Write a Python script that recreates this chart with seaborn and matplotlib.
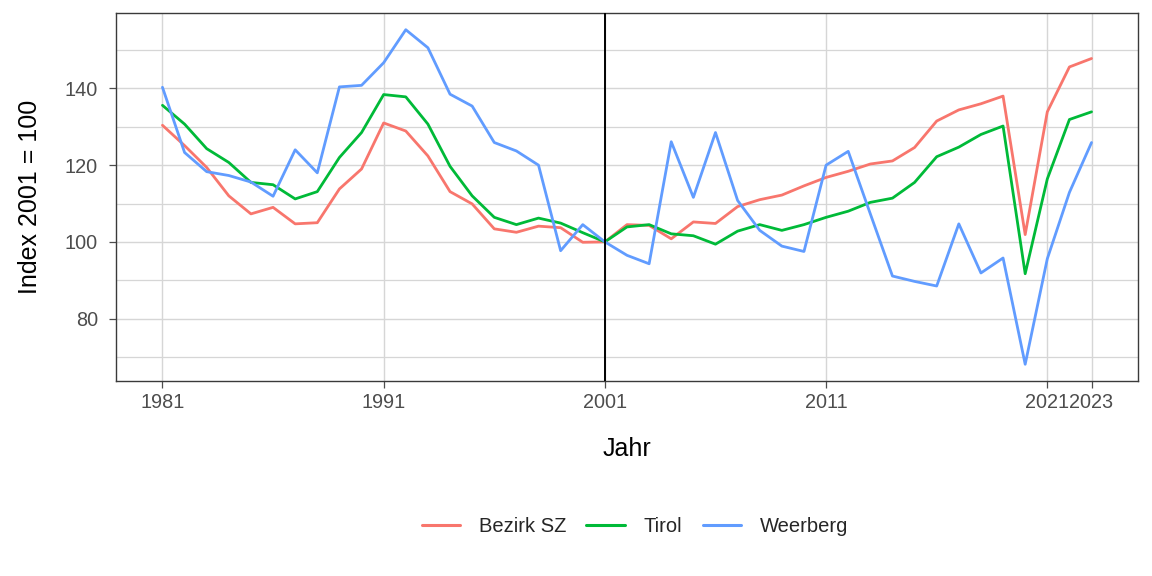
import matplotlib
matplotlib.use("Agg")
import matplotlib.pyplot as plt
import seaborn as sns
import pandas as pd
import numpy as np

years = list(range(1981, 2024))

bezirk_sz = [130.4, 125.1, 119.4, 112.0, 107.3, 109.0, 104.7, 105.0, 113.8, 119.0,
             131.0, 128.9, 122.4, 113.1, 109.9, 103.4, 102.5, 104.1, 103.7, 99.9,
             100.0, 104.5, 104.3, 100.8, 105.2, 104.8, 109.2, 111.0, 112.2, 114.6,
             116.8, 118.4, 120.3, 121.1, 124.6, 131.5, 134.4, 136.0, 138.0, 101.9,
             133.9, 145.6, 147.8]

tirol = [135.6, 130.7, 124.3, 120.7, 115.5, 114.9, 111.2, 113.1, 122.0, 128.5,
         138.4, 137.8, 130.7, 119.7, 112.0, 106.4, 104.5, 106.2, 104.9, 102.4,
         100.0, 103.9, 104.5, 102.1, 101.6, 99.4, 102.8, 104.5, 103.0, 104.5,
         106.4, 108.0, 110.3, 111.4, 115.5, 122.2, 124.7, 128.0, 130.2, 91.7,
         116.4, 131.9, 133.9]

weerberg = [140.3, 123.3, 118.3, 117.3, 115.6, 111.9, 124.0, 118.0, 140.4, 140.8,
            146.7, 155.3, 150.6, 138.5, 135.4, 125.9, 123.7, 120.0, 97.7, 104.5,
            100.0, 96.5, 94.3, 126.1, 111.6, 128.5, 110.8, 103.0, 98.9, 97.5,
            120.0, 123.6, 107.3, 91.1, 89.7, 88.5, 104.7, 91.9, 95.8, 68.1,
            95.6, 112.9, 125.9]

series_names = ["Bezirk SZ", "Tirol", "Weerberg"]
series_colors = ["#F8766D", "#00BA38", "#619CFF"]
x_ticks = [1981, 1991, 2001, 2011, 2021, 2023]
y_ticks = [80, 100, 120, 140]
y_minor = [70, 90, 110, 130, 150]
ref_year = 2001

df = pd.DataFrame({
    "Jahr": years * 3,
    "Index": bezirk_sz + tirol + weerberg,
    "Gebiet": [series_names[0]] * len(years) + [series_names[1]] * len(years) + [series_names[2]] * len(years),
})

sns.set_theme(style="white")
plt.rcParams["font.family"] = ["Liberation Sans", "DejaVu Sans"]

fig = plt.figure(figsize=(11.52, 5.76), dpi=100)
ax = fig.add_axes([116 / 1152, 1 - 381 / 576, (1138 - 116) / 1152, (381 - 13) / 576])

for v in y_minor:
    ax.axhline(v, color="#D6D6D6", lw=0.9, zorder=0)
for v in y_ticks:
    ax.axhline(v, color="#D6D6D6", lw=1.0, zorder=0)
for v in x_ticks:
    ax.axvline(v, color="#D6D6D6", lw=1.0, zorder=0)

sns.lineplot(data=df, x="Jahr", y="Index", hue="Gebiet", hue_order=series_names,
             palette=series_colors, lw=2.0, ax=ax, legend=True, zorder=3)

ax.axvline(ref_year, color="black", lw=1.4, zorder=4)

xmin, xmax = min(years), max(years)
xr = xmax - xmin
ax.set_xlim(xmin - 0.05 * xr, xmax + 0.05 * xr)
allv = bezirk_sz + tirol + weerberg
ymin, ymax = min(allv), max(allv)
yr = ymax - ymin
ax.set_ylim(ymin - 0.05 * yr, ymax + 0.05 * yr)

ax.set_xticks(x_ticks)
ax.set_xticklabels([str(t) for t in x_ticks])
ax.set_yticks(y_ticks)
ax.tick_params(axis="both", which="major", length=5, width=0.9, color="#4D4D4D",
               labelsize=14.3, labelcolor="#4D4D4D", bottom=True, left=True)
ax.tick_params(axis="x", pad=4)
ax.tick_params(axis="y", pad=8)

for s in ax.spines.values():
    s.set_visible(True)
    s.set_color("#3A3A3A")
    s.set_linewidth(1.0)

ax.set_xlabel("Jahr", fontsize=18, color="black", labelpad=17.5)
ax.set_ylabel("Index 2001 = 100", fontsize=18, color="black", labelpad=16.5)

handles, labels = ax.get_legend_handles_labels()
ax.get_legend().remove()
leg = fig.legend(handles, labels, loc="center", bbox_to_anchor=(635 / 1152, 1 - 527 / 576),
                 ncol=3, frameon=False, fontsize=14.5, handlelength=1.9,
                 handletextpad=0.95, columnspacing=1.0)
for line in leg.get_lines():
    line.set_linewidth(2.2)

fig.savefig("out.png", dpi=100)
